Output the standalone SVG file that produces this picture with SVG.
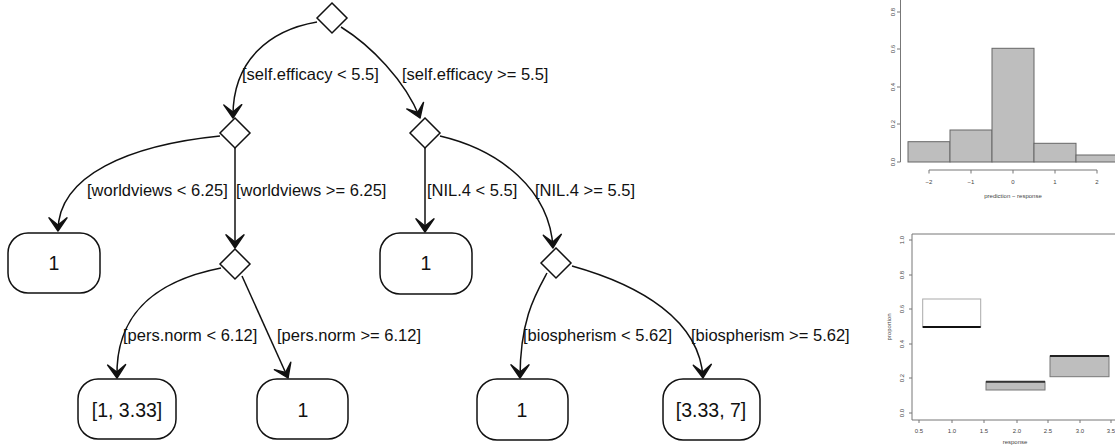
<svg xmlns="http://www.w3.org/2000/svg" width="1115" height="448" viewBox="0 0 1115 448">
<style>
.lbl{font-family:"Liberation Sans",Arial,sans-serif;font-size:16.5px;fill:#111}
.lt{font-family:"Liberation Sans",Arial,sans-serif;font-size:19.5px;fill:#111;text-anchor:middle}
.dia{fill:#fff;stroke:#111;stroke-width:1.5}
.leaf{fill:#fff;stroke:#111;stroke-width:1.5}
.edge{fill:none;stroke:#111;stroke-width:1.5;marker-end:url(#arr)}
.tk{font-family:"Liberation Sans",Arial,sans-serif;font-size:6px;fill:#444;text-anchor:middle}
.ax{stroke:#777;stroke-width:1;fill:none}
.bar{fill:#bebebe;stroke:#666;stroke-width:1}
</style>
<defs>
<marker id="arr" markerUnits="userSpaceOnUse" markerWidth="24" markerHeight="24" refX="0" refY="0" viewBox="-13 -10 15 20" orient="auto">
<path d="M0,0 L-11,-7.5 L-5,0 L-11,7.5 Z" fill="#111" stroke="#111" stroke-width="1.2" stroke-linejoin="round"/>
</marker>
</defs>
<rect width="1115" height="448" fill="#fff"/>
<g id="connectors">
<path class="edge" d="M317,22 C270,30 232,60 233,118"/>
<path class="edge" d="M341,27 C370,45 405,80 420,118"/>
<path class="edge" d="M220,136 C130,145 58,175 58,231"/>
<path class="edge" d="M235,148 L235,248"/>
<path class="edge" d="M425,148 L425,232"/>
<path class="edge" d="M440,136 C500,150 550,190 553,248"/>
<path class="edge" d="M221,268 C160,280 115,310 117,378"/>
<path class="edge" d="M242,276 L288,378"/>
<path class="edge" d="M547,273 C535,295 520,320 520,378"/>
<path class="edge" d="M572,266 C640,285 700,320 703,378"/>
<text class="lbl" x="242" y="80">[self.efficacy &lt; 5.5]</text>
<text class="lbl" x="402" y="80">[self.efficacy &gt;= 5.5]</text>
<text class="lbl" x="87" y="196">[worldviews &lt; 6.25]</text>
<text class="lbl" x="236" y="196">[worldviews &gt;= 6.25]</text>
<text class="lbl" x="427" y="196">[NIL.4 &lt; 5.5]</text>
<text class="lbl" x="535" y="196">[NIL.4 &gt;= 5.5]</text>
<text class="lbl" x="123" y="341">[pers.norm &lt; 6.12]</text>
<text class="lbl" x="277" y="341">[pers.norm &gt;= 6.12]</text>
<text class="lbl" x="523" y="341">[biospherism &lt; 5.62]</text>
<text class="lbl" x="691" y="341">[biospherism &gt;= 5.62]</text>
</g>
<g id="n_root"><polygon class="dia" points="332,3 347,18 332,33 317,18"/></g>
<g id="n_left"><polygon class="dia" points="235,118 250,133 235,148 220,133"/></g>
<g id="n_right"><polygon class="dia" points="425,118 440,133 425,148 410,133"/></g>
<g id="n_leaf1"><rect class="leaf" x="8" y="233" width="92" height="60" rx="20"/><text class="lt" x="54" y="270">1</text></g>
<g id="n_pers"><polygon class="dia" points="235,249 250,264 235,279 220,264"/></g>
<g id="n_leaf2"><rect class="leaf" x="380" y="233" width="92" height="61" rx="20"/><text class="lt" x="426" y="270">1</text></g>
<g id="n_bio"><polygon class="dia" points="556,248 571,263 556,278 541,263"/></g>
<g id="n_leaf3"><rect class="leaf" x="78" y="379" width="98" height="60" rx="20"/><text class="lt" x="127" y="417">[1, 3.33]</text></g>
<g id="n_leaf4"><rect class="leaf" x="257" y="379" width="91" height="60" rx="20"/><text class="lt" x="303" y="417">1</text></g>
<g id="n_leaf5"><rect class="leaf" x="477" y="379" width="91" height="61" rx="20"/><text class="lt" x="522" y="417">1</text></g>
<g id="n_leaf6"><rect class="leaf" x="663" y="379" width="97" height="61" rx="20"/><text class="lt" x="711" y="417">[3.33, 7]</text></g>
<g id="histogram">
<line class="ax" x1="900.5" y1="0" x2="900.5" y2="162" stroke="#aaa"/>
<g class="ax"><path d="M897,12H900.5M897,49H900.5M897,87H900.5M897,124H900.5M897,162H900.5"/></g>
<text class="tk" transform="translate(895,12) rotate(-90)">0.8</text>
<text class="tk" transform="translate(895,49) rotate(-90)">0.6</text>
<text class="tk" transform="translate(895,87) rotate(-90)">0.4</text>
<text class="tk" transform="translate(895,124) rotate(-90)">0.2</text>
<text class="tk" transform="translate(895,162) rotate(-90)">0.0</text>
<rect class="bar" x="908" y="141.7" width="42" height="20.3"/>
<rect class="bar" x="950" y="130" width="42" height="32"/>
<rect class="bar" x="992" y="48.3" width="42" height="113.7"/>
<rect class="bar" x="1034" y="143.3" width="42" height="18.7"/>
<rect class="bar" x="1076" y="155" width="42" height="7"/>
<path class="ax" d="M929,170H1097M929,170V173.5M971,170V173.5M1013,170V173.5M1055,170V173.5M1097,170V173.5"/>
<text class="tk" x="929" y="184">−2</text>
<text class="tk" x="971" y="184">−1</text>
<text class="tk" x="1013" y="184">0</text>
<text class="tk" x="1055" y="184">1</text>
<text class="tk" x="1097" y="184">2</text>
<text class="tk" x="1013" y="198">prediction − response</text>
</g>
<g id="proportion-plot">
<path class="ax" d="M912,234H1116M912,234V420H1116"/>
<path class="ax" d="M909,240H912M909,275H912M909,309H912M909,344H912M909,378H912M909,413H912"/>
<text class="tk" transform="translate(904,240) rotate(-90)">1.0</text>
<text class="tk" transform="translate(904,275) rotate(-90)">0.8</text>
<text class="tk" transform="translate(904,309) rotate(-90)">0.6</text>
<text class="tk" transform="translate(904,344) rotate(-90)">0.4</text>
<text class="tk" transform="translate(904,378) rotate(-90)">0.2</text>
<text class="tk" transform="translate(904,413) rotate(-90)">0.0</text>
<text class="tk" transform="translate(891,327) rotate(-90)">proportion</text>
<path class="ax" d="M919,420V423M952,420V423M984,420V423M1017,420V423M1048,420V423M1080,420V423M1111,420V423"/>
<text class="tk" x="919" y="433">0.5</text>
<text class="tk" x="952" y="433">1.0</text>
<text class="tk" x="984" y="433">1.5</text>
<text class="tk" x="1017" y="433">2.0</text>
<text class="tk" x="1048" y="433">2.5</text>
<text class="tk" x="1080" y="433">3.0</text>
<text class="tk" x="1111" y="433">3.5</text>
<text class="tk" x="1015" y="444">response</text>
<rect x="922.7" y="299" width="58" height="28" fill="#fff" stroke="#aaa" stroke-width="1"/>
<line x1="922.7" y1="327" x2="980.7" y2="327" stroke="#111" stroke-width="2"/>
<rect x="986" y="381.7" width="59" height="8.3" fill="#bebebe" stroke="#777" stroke-width="1"/>
<line x1="986" y1="381.7" x2="1045" y2="381.7" stroke="#333" stroke-width="2"/>
<rect x="1050" y="356" width="59" height="20.7" fill="#bebebe" stroke="#777" stroke-width="1"/>
<line x1="1050" y1="356" x2="1109" y2="356" stroke="#222" stroke-width="2"/>
</g>
</svg>
